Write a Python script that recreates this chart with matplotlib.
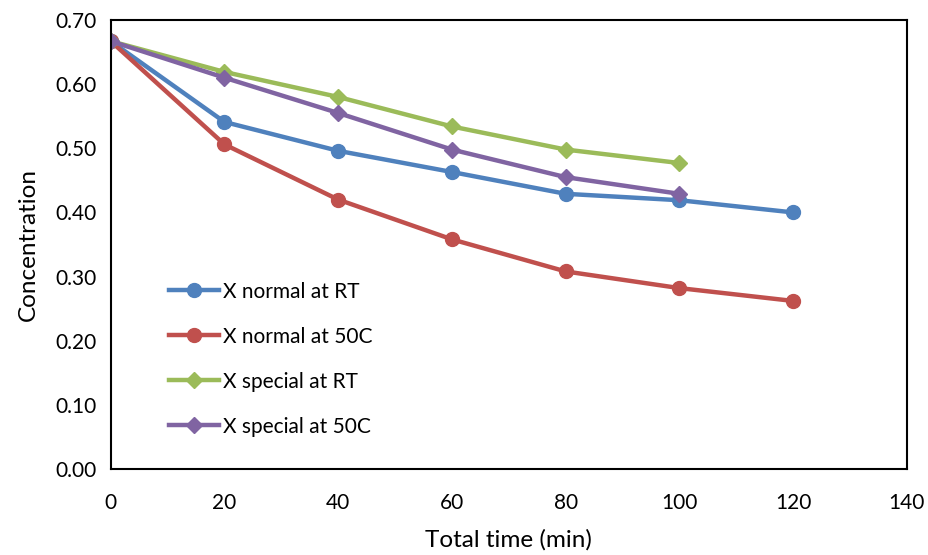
import matplotlib
matplotlib.use("Agg")
import matplotlib.pyplot as plt

plt.rcParams["font.family"] = ["Lato", "DejaVu Sans"]

time_min = [0, 20, 40, 60, 80, 100, 120]
normal_rt = [0.667, 0.541, 0.496, 0.463, 0.429, 0.419, 0.400]
normal_50c = [0.667, 0.506, 0.420, 0.358, 0.308, 0.282, 0.262]
special_rt = [0.667, 0.619, 0.580, 0.534, 0.498, 0.477]
special_50c = [0.667, 0.610, 0.555, 0.498, 0.455, 0.429]

fig = plt.figure(figsize=(9.29, 5.55), dpi=100)
ax = fig.add_axes([0.1192, 0.155, 0.8568, 0.809])

ax.plot(time_min, normal_rt, color="#4F81BD", lw=3.2, marker="o", ms=10, label="X normal at RT")
ax.plot(time_min, normal_50c, color="#C0504D", lw=3.2, marker="o", ms=10, label="X normal at 50C")
ax.plot(time_min[:6], special_rt, color="#9BBB59", lw=3.2, marker="D", ms=8, label="X special at RT")
ax.plot(time_min[:6], special_50c, color="#8064A2", lw=3.2, marker="D", ms=8, label="X special at 50C")

ax.set_xlim(0, 140)
ax.set_ylim(0, 0.70)
ax.set_xticks(range(0, 141, 20))
ax.set_yticks([i / 10 for i in range(8)])
ax.set_yticklabels(["%.2f" % (i / 10) for i in range(8)])
ax.tick_params(length=0, labelsize=15, pad=10)
ax.tick_params(axis="x", pad=17)
for s in ax.spines.values():
    s.set_linewidth(1.5)

ax.set_xlabel("Total time (min)", fontsize=17.5, labelpad=12)
ax.set_ylabel("Concentration", fontsize=17.5, labelpad=12)

ax.legend(loc="lower left", bbox_to_anchor=(0.05, 0.03), frameon=False,
          fontsize=15, handlelength=2.4, labelspacing=1.2, handletextpad=0.2)

fig.savefig("out.png", dpi=100)
